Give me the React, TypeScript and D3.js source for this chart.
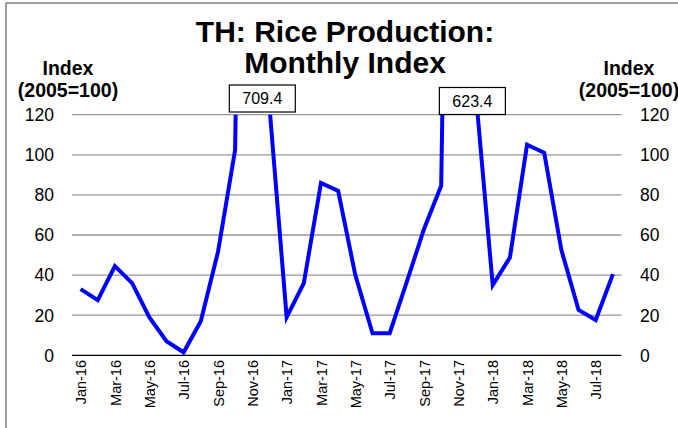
import React from "react";
import * as d3 from "d3";

const months = [
  "Jan-16","Feb-16","Mar-16","Apr-16","May-16","Jun-16","Jul-16","Aug-16","Sep-16","Oct-16","Nov-16","Dec-16",
  "Jan-17","Feb-17","Mar-17","Apr-17","May-17","Jun-17","Jul-17","Aug-17","Sep-17","Oct-17","Nov-17","Dec-17",
  "Jan-18","Feb-18","Mar-18","Apr-18","May-18","Jun-18","Jul-18","Aug-18",
];
const values = [
  33, 27.5, 44.5, 36, 19, 7, 1.5, 17, 51.5, 102.5, 709.4, 124,
  19, 36, 86, 82, 40, 11, 11, 36.7, 63, 84.6, 623.4, 132,
  35, 48.7, 105, 101, 52.5, 22.6, 17.6, 40.5,
];
const tickLabels = months.filter((_, i) => i % 2 === 0);
const yTicks = [0, 20, 40, 60, 80, 100, 120];
const annotations = [
  { month: "Nov-16", label: "709.4" },
  { month: "Nov-17", label: "623.4" },
];
const titleLines = ["TH: Rice Production:", "Monthly Index"];
const axisTitleLines = ["Index", "(2005=100)"];

const W = 678, H = 428;
const L = 72, R = 621.5, T = 114.7, B = 355.3;
const annOffsets = [10, 14];
const annTops = [85, 87.5];

export default function App() {
  const x = d3.scalePoint<string>().domain(months).range([L, R]).padding(0.5);
  const y = d3.scaleLinear().domain([0, 120]).range([B, T]);
  const line = d3
    .line<number>()
    .x((_, i) => x(months[i]) as number)
    .y((d) => y(d));
  const font = "Arial, 'Liberation Sans', sans-serif";

  return (
    <svg
      width={W}
      height={H}
      style={{ position: "absolute", left: 0, top: 0, background: "#fff" }}
      fontFamily={font}
    >
      <rect x={0} y={0} width={W} height={H} fill="#fff" />
      <rect x={6} y={3} width={W + 20} height={H + 20} fill="none" stroke="#7f7f7f" strokeWidth={1.5} />
      <defs>
        <clipPath id="plotclip">
          <rect x={L - 5} y={T} width={R - L + 10} height={B - T + 20} />
        </clipPath>
      </defs>
      {yTicks.map((t) =>
        t === 0 ? null : (
          <line key={"g" + t} x1={L} x2={R} y1={y(t)} y2={y(t)} stroke="#969696" strokeWidth={1.3} />
        )
      )}
      <line x1={L} x2={R} y1={y(0)} y2={y(0)} stroke="#000" strokeWidth={1.3} />
      {yTicks.map((t) => (
        <g key={"t" + t} fontSize={17.5} fill="#000">
          <text x={54} y={y(t)} dy="0.36em" textAnchor="end">{t}</text>
          <text x={640} y={y(t)} dy="0.36em" textAnchor="start">{t}</text>
        </g>
      ))}
      {tickLabels.map((m) => (
        <text
          key={m}
          transform={`translate(${(x(m) as number) + 0.5},${360}) rotate(-90)`}
          textAnchor="end"
          dy="0.35em"
          fontSize={14.5}
          fill="#000"
        >
          {m}
        </text>
      ))}
      <path
        d={line(values) || ""}
        fill="none"
        stroke="#0000ff"
        strokeWidth={4}
        strokeLinejoin="miter"
        clipPath="url(#plotclip)"
      />
      {annotations.map((a, i) => {
        const cx = (x(a.month) as number) + annOffsets[i];
        const top = annTops[i];
        return (
          <g key={a.label}>
            <rect x={cx - 33} y={top} width={66} height={27} fill="#fff" stroke="#000" strokeWidth={1.2} />
            <text x={cx} y={top + 13.5} dy="0.36em" textAnchor="middle" fontSize={16} fill="#000">
              {a.label}
            </text>
          </g>
        );
      })}
      {titleLines.map((t, i) => (
        <text key={t} x={345} y={41.7 + i * 31.6} textAnchor="middle" fontSize={30} fontWeight="bold" fill="#000">
          {t}
        </text>
      ))}
      {axisTitleLines.map((t, i) => (
        <g key={t} fontSize={19.5} fontWeight="bold" fill="#000">
          <text x={68} y={75 + i * 21.5} textAnchor="middle">{t}</text>
          <text x={629} y={75 + i * 21.5} textAnchor="middle">{t}</text>
        </g>
      ))}
    </svg>
  );
}
